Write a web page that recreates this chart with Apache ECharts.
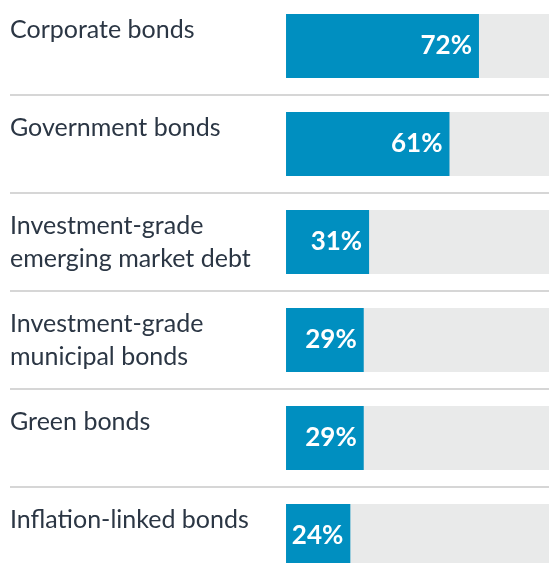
<!DOCTYPE html>
<html lang="en">
<head>
    <meta charset="UTF-8">
    <title>Bond types</title>
    <script src="https://cdn.jsdelivr.net/npm/echarts@6.0.0/dist/echarts.min.js"></script>
    <style>
        html, body { margin: 0; padding: 0; background: #fff; }
    </style>
</head>
<body>
    <div id="chart" style="width: 549px; height: 563px;"></div>

    <script>
        // categories and shares (%)
        let categories = [
            'Corporate bonds',
            'Government bonds',
            'Investment-grade\nemerging market debt',
            'Investment-grade\nmunicipal bonds',
            'Green bonds',
            'Inflation-linked bonds'
        ];
        let shares = [72, 61, 31, 29, 29, 24];
        let full = categories.map(() => 100);

        let chart = echarts.init(document.getElementById('chart'));

        let option = {
            animation: false,
            // 100% runs a little past the right edge of the picture
            grid: { left: 10, right: -5, top: -3, height: 588, outerBoundsMode: 'none', containLabel: false },
            xAxis: {
                type: 'value',
                min: -103,
                max: 100,
                show: false
            },
            yAxis: {
                type: 'category',
                data: categories,
                inverse: true,
                axisLine: { show: false },
                axisTick: { show: false },
                splitLine: { show: true, lineStyle: { color: '#c8c8c8', width: 1.5 } },
                axisLabel: {
                    inside: true,
                    margin: 0,
                    color: '#2b3644',
                    fontFamily: 'Lato',
                    fontSize: 25,
                    lineHeight: 33,
                    align: 'left',
                    verticalAlign: 'middle',
                    padding: [0, 0, 9, 0],
                    // single-line labels sit at the top of their row
                    formatter: v => v.indexOf('\n') < 0 ? v + '\n ' : v
                }
            },
            series: [
                {
                    type: 'bar',
                    data: full,
                    barWidth: 64,
                    barGap: '-100%',
                    silent: true,
                    itemStyle: { color: '#e9eaea' }
                },
                {
                    type: 'bar',
                    data: shares,
                    barWidth: 64,
                    itemStyle: { color: '#008fc0' },
                    label: {
                        show: true,
                        position: 'insideRight',
                        distance: 7,
                        color: '#fff',
                        fontFamily: 'Lato',
                        fontWeight: 'bold',
                        fontSize: 26,
                        formatter: '{c}%'
                    }
                }
            ]
        };

        chart.setOption(option);
    </script>
</body>
</html>
